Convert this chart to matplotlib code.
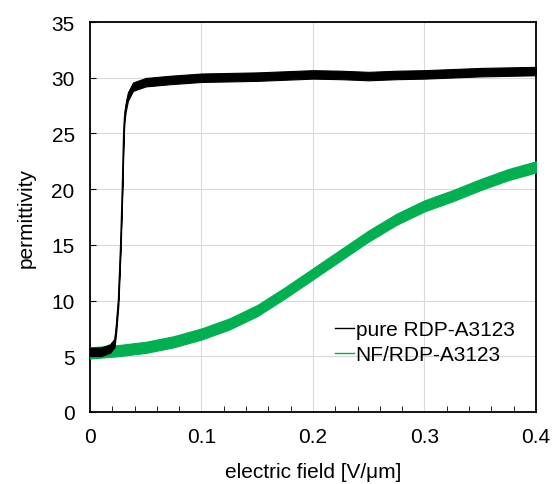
import matplotlib
matplotlib.use("Agg")
import matplotlib.pyplot as plt
import numpy as np

plt.rcParams['font.family'] = ['Liberation Sans', 'DejaVu Sans']

# Data
pure_x = [0, 0.01, 0.018, 0.022, 0.0235, 0.0255, 0.0275, 0.029, 0.0302, 0.031,
          0.032, 0.034, 0.0386, 0.05, 0.072, 0.1, 0.125, 0.15, 0.175, 0.2, 0.225,
          0.25, 0.275, 0.3, 0.325, 0.35, 0.375, 0.4]
pure_y = [5.4, 5.4, 5.7, 6.2, 7.5, 10, 15, 20, 25, 26.5,
          27.3, 28.3, 29.2, 29.6, 29.8, 30.0, 30.05, 30.1, 30.2, 30.3, 30.25,
          30.15, 30.25, 30.3, 30.4, 30.5, 30.55, 30.6]
pure_noise = 0.38

nf_x = [0, 0.025, 0.05, 0.075, 0.1, 0.125, 0.15, 0.175, 0.2, 0.225, 0.25,
        0.275, 0.3, 0.325, 0.35, 0.375, 0.4]
nf_y = [5.3, 5.5, 5.8, 6.3, 7.0, 7.9, 9.1, 10.7, 12.4, 14.1, 15.8,
        17.3, 18.5, 19.4, 20.4, 21.3, 22.0]
nf_noise = 0.5

labels = ["pure RDP-A3123", "NF/RDP-A3123"]
xticks = [0, 0.1, 0.2, 0.3, 0.4]
xtick_labels = ["0", "0.1", "0.2", "0.3", "0.4"]
yticks = [0, 5, 10, 15, 20, 25, 30, 35]

FS = 15

fig = plt.figure(figsize=(5.52, 4.85), dpi=100)
ax = fig.add_axes([0.163, 0.1485, 0.808, 0.804])

black = "#000000"
green = "#00b050"

nfx = np.array(nf_x); nfy = np.array(nf_y)
px = np.array(pure_x); py = np.array(pure_y)

ax.fill_between(nfx, nfy - nf_noise, nfy + nf_noise, color=green, lw=0.8, edgecolor=green, zorder=3)
ax.plot(nfx, nfy, color=green, lw=1, label=labels[1], zorder=3)
ax.fill_between(px, py - pure_noise, py + pure_noise, color=black, lw=0.8, edgecolor=black, zorder=4)
ax.plot(px, py, color=black, lw=1, label=labels[0], zorder=4)

ax.set_xlim(0, 0.4)
ax.set_ylim(0, 35)
ax.set_xticks(xticks)
ax.set_xticklabels(xtick_labels)
ax.set_xticks(np.arange(0, 0.4001, 0.02), minor=True)
ax.set_yticks(yticks)
ax.grid(True, which='major', color='#d9d9d9', lw=0.8, zorder=0)
ax.set_axisbelow(True)
ax.tick_params(axis='both', which='both', direction='in', labelsize=FS, color='black')
ax.tick_params(axis='x', which='major', length=0, pad=11)
ax.tick_params(axis='x', which='minor', length=4)
ax.tick_params(axis='y', which='major', length=4, pad=11)
for s in ax.spines.values():
    s.set_linewidth(1.3)

ax.set_xlabel("electric field [V/μm]", fontsize=FS, labelpad=11)
ax.set_ylabel("permittivity", fontsize=FS, labelpad=11)

handles, labs = ax.get_legend_handles_labels()
order = [1, 0]
ax.legend([handles[i] for i in order], [labs[i] for i in order],
          loc='upper left', bbox_to_anchor=(0.507, 0.284), frameon=False,
          fontsize=FS, handlelength=0.9, handletextpad=0.1, labelspacing=0.3)

fig.savefig("out.png", dpi=100)
